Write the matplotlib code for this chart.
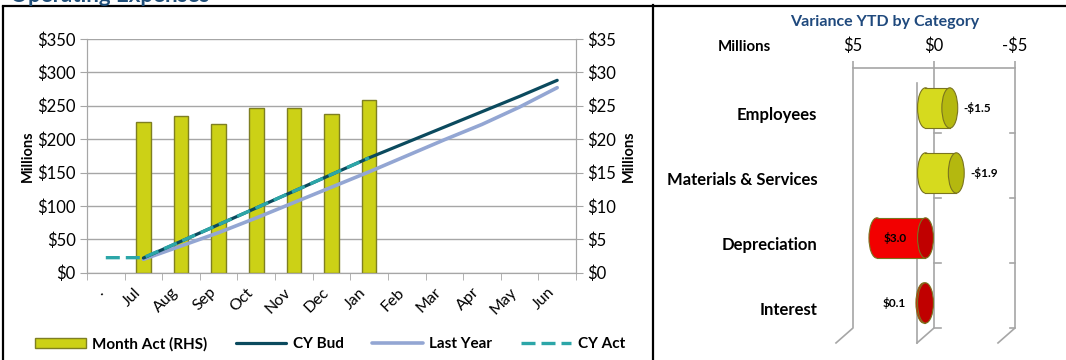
import numpy as np
import matplotlib
matplotlib.use("Agg")
import matplotlib.pyplot as plt
import matplotlib.transforms as mtransforms
from matplotlib.patches import Rectangle, Ellipse
from matplotlib.lines import Line2D

plt.rcParams['font.family'] = ['Lato', 'DejaVu Sans']

# ---- data ----
months = ['.', 'Jul', 'Aug', 'Sep', 'Oct', 'Nov', 'Dec', 'Jan', 'Feb', 'Mar', 'Apr', 'May', 'Jun']
act_months = ['Jul', 'Aug', 'Sep', 'Oct', 'Nov', 'Dec', 'Jan']
month_act = [22.6, 23.5, 22.3, 24.6, 24.7, 23.8, 25.8]          # RHS, $M
bud_months = months[1:]
cy_bud = [22, 47, 72, 97, 122, 147, 172, 195, 218, 241, 264, 288]
last_year = [20, 40, 60, 82, 105, 128, 151, 175, 199, 222, 248, 277]
cy_act_months = months[:8]
cy_act = [22.5, 22.5, 47, 72, 97, 122, 147, 172]

categories = ['Employees', 'Materials & Services', 'Depreciation', 'Interest']
variance = [-1.5, -1.9, 3.0, 0.1]

GRAY = '#A6A6A6'
BAR_C = '#CCD116'
BAR_E = '#7E7F22'

fig = plt.figure(figsize=(10.66, 3.6), dpi=100)
W, H = 1066, 360

def fx(px):
    return px / W

def fy(py):
    return 1 - py / H

# ---- left chart ----
ax = fig.add_axes([fx(87), fy(272.7), fx(576 - 87), (272.7 - 38.9) / H])
axr = ax.twinx()
ax.set_zorder(axr.get_zorder() + 1)
ax.patch.set_visible(False)

xi = {m: i for i, m in enumerate(months)}
bars = axr.bar([xi[m] for m in act_months], month_act, width=0.39,
               color=BAR_C, edgecolor=BAR_E, linewidth=1, zorder=3)
l_bud, = ax.plot([xi[m] for m in bud_months], cy_bud, color='#0B4A5E', lw=2.3,
                 solid_capstyle='round', zorder=4)
l_ly, = ax.plot([xi[m] for m in bud_months], last_year, color='#93A6D3', lw=2.6,
                solid_capstyle='round', zorder=3)
l_act, = ax.plot([xi[m] for m in cy_act_months], cy_act, color='#2CA6A8', lw=2.4,
                 linestyle=(0, (4.2, 1.8)), dash_capstyle='butt', zorder=5)

ax.set_xlim(-0.5, len(months) - 0.5)
ax.set_ylim(0, 350)
axr.set_ylim(0, 35)
ax.set_yticks(np.arange(0, 351, 50))
ax.set_yticklabels(['$%d' % v for v in np.arange(0, 351, 50)])
axr.set_yticks(np.arange(0, 36, 5))
axr.set_yticklabels(['$%d' % v for v in np.arange(0, 36, 5)])
axr.grid(True, axis='y', color=GRAY, lw=1)
axr.set_axisbelow(True)

ax.set_xticks(range(len(months)))
ax.set_xticklabels(months, rotation=45, ha='right', fontsize=11.5)
shift = mtransforms.ScaledTranslation(6 / 100, 0, fig.dpi_scale_trans)
for lab in ax.get_xticklabels():
    lab.set_transform(lab.get_transform() + shift)
ax.set_xticks(np.arange(-0.5, len(months)), minor=True)
ax.tick_params(axis='x', which='major', length=0, pad=9)
ax.tick_params(axis='x', which='minor', length=5, color=GRAY)
ax.tick_params(axis='y', length=5, color=GRAY, labelsize=12, pad=3)
axr.tick_params(axis='y', length=5, color=GRAY, labelsize=12, pad=3)
for a in (ax, axr):
    for s in a.spines.values():
        s.set_color(GRAY)
    a.spines['top'].set_visible(False)

ax.set_ylabel('Millions', fontweight='bold', fontsize=10.5, labelpad=2)
axr.set_ylabel('Millions', fontweight='bold', fontsize=10.5, labelpad=4)

fig.legend([bars, l_bud, l_ly, l_act], ['Month Act (RHS)', 'CY Bud', 'Last Year', 'CY Act'],
           loc='center', bbox_to_anchor=(fx(330), fy(344)), ncol=4, frameon=False,
           prop={'weight': 'bold', 'size': 11}, handlelength=3.3,
           columnspacing=1.9, handletextpad=0.4)

# panel borders and title
fig.add_artist(Line2D([fx(3), fx(3)], [fy(7), 0], color='black', lw=1.6))
fig.add_artist(Line2D([fx(3), 1], [fy(6), fy(6)], color='black', lw=1.6))
fig.add_artist(Line2D([fx(653), fx(653)], [fy(5), 0], color='black', lw=1.6))
fig.text(fx(10), fy(2), 'Operating Expenses', fontsize=16, fontweight='bold',
         color='#1F4E79', va='baseline', ha='left')

# ---- right chart: variance ----
ax2 = fig.add_axes([fx(853), fy(328), fx(1015 - 853), (328 - 68) / H])
ax2.set_xlim(5, -5)
ax2.set_ylim(len(categories), 0)
ax2.xaxis.tick_top()
ax2.set_xticks([5, 0, -5])
ax2.set_xticklabels(['$5', '$0', '-$5'])
ax2.tick_params(axis='x', length=5, color=GRAY, labelsize=12, pad=5, width=1.2)
ax2.set_yticks([])
for k, s in ax2.spines.items():
    s.set_visible(k == 'top')
ax2.spines['top'].set_color(GRAY)
ax2.spines['top'].set_linewidth(1.2)
ax2.patch.set_visible(False)

n = len(categories)
DX, DY = 1.05, 0.23          # depth offset (data units) back -> front
for xv in [5, 0, -5]:
    ax2.plot([xv, xv, xv + DX], [0, n, n + DY], color=GRAY, lw=1.2, clip_on=False, zorder=1)
ax2.plot([DX, DX], [DY, n + DY], color=GRAY, lw=1.2, clip_on=False, zorder=1)
for yv in range(1, n + 1):
    ax2.plot([0, -0.43], [yv, yv], color=GRAY, lw=1.2, clip_on=False, zorder=1)
    ax2.plot([-5, -4.7], [yv, yv], color=GRAY, lw=1.2, clip_on=False, zorder=1)

off_x, off_y = DX / 2, DY / 2
half_h, cap_w = 0.31, 0.49
EDGE = '#7A7420'
for i, (cat, v) in enumerate(zip(categories, variance)):
    yc = i + 0.5 + off_y
    body, face = ('#D6DA1E', '#B4B80F') if v < 0 else ('#F20000', '#C00000')
    a, b = off_x, v + off_x
    lo, hi = min(a, b), max(a, b)
    ax2.add_patch(Ellipse((hi, yc), 2 * cap_w, 2 * half_h, facecolor=body,
                          edgecolor=EDGE, lw=0.8, zorder=3, clip_on=False))
    ax2.add_patch(Rectangle((lo, yc - half_h), hi - lo, 2 * half_h, facecolor=body,
                            edgecolor='none', zorder=4, clip_on=False))
    ax2.plot([lo, hi], [yc - half_h, yc - half_h], color=EDGE, lw=0.8, zorder=4, clip_on=False)
    ax2.plot([lo, hi], [yc + half_h, yc + half_h], color=EDGE, lw=0.8, zorder=4, clip_on=False)
    ax2.add_patch(Ellipse((lo, yc), 2 * cap_w, 2 * half_h, facecolor=face,
                          edgecolor=EDGE, lw=0.8, zorder=5, clip_on=False))
    txt = ('-$%.1f' % abs(v)) if v < 0 else ('$%.1f' % v)
    if v < 0:
        ax2.text(lo - cap_w - 0.35, yc, txt, ha='left', va='center', fontsize=8.5,
                 fontweight='bold', zorder=6)
    else:
        ax2.text(off_x + 1.9, yc, txt, ha='center', va='center', fontsize=8.5,
                 fontweight='bold', zorder=6)
    ax2.text(7.2, i + 0.5 + DY, cat, ha='right', va='center', fontsize=12,
             fontweight='bold')

fig.text(fx(885), fy(22), 'Variance YTD by Category', fontsize=11.5, fontweight='bold',
         color='#1F497D', ha='center', va='center')
fig.text(fx(744), fy(47), 'Millions', fontsize=10.8, fontweight='bold', ha='center', va='center')

fig.savefig('out.png', dpi=100)
